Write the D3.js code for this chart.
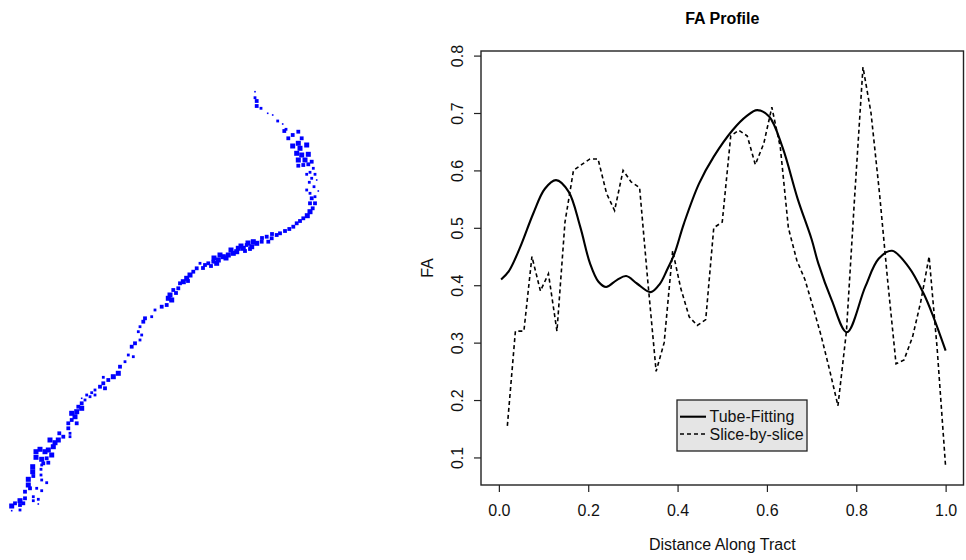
<!DOCTYPE html>
<html>
<head>
<meta charset="utf-8">
<script src="https://cdn.jsdelivr.net/npm/d3@7"></script>
<style>
  body { margin: 0; background: #fff; }
  svg { display: block; font-family: "Liberation Sans", Arial, Helvetica, sans-serif; }
</style>
</head>
<body>
<div id="chart"></div>
<script>
// Slice-by-slice FA samples (54 slices along the tract)
const sliceDistance = [0.019, 0.037, 0.056, 0.074, 0.093, 0.111, 0.130, 0.148, 0.167, 0.185,
  0.204, 0.222, 0.241, 0.259, 0.278, 0.296, 0.315, 0.333, 0.352, 0.370,
  0.389, 0.407, 0.426, 0.444, 0.463, 0.481, 0.500, 0.519, 0.537, 0.556,
  0.574, 0.593, 0.611, 0.630, 0.648, 0.667, 0.685, 0.704, 0.722, 0.741,
  0.759, 0.778, 0.796, 0.815, 0.833, 0.852, 0.870, 0.889, 0.907, 0.926,
  0.944, 0.963, 0.981, 1.000];
const sliceFA = [0.155, 0.32, 0.32, 0.45, 0.39, 0.42, 0.32, 0.51, 0.60, 0.61,
  0.62, 0.62, 0.56, 0.53, 0.60, 0.58, 0.57, 0.41, 0.25, 0.30,
  0.46, 0.395, 0.345, 0.33, 0.34, 0.50, 0.51, 0.66, 0.67, 0.66,
  0.61, 0.647, 0.71, 0.64, 0.50, 0.443, 0.41, 0.36, 0.31, 0.25,
  0.19, 0.32, 0.55, 0.78, 0.70, 0.56, 0.41, 0.263, 0.27, 0.31,
  0.37, 0.45, 0.29, 0.083];

// Tube-fitting FA profile (smooth curve, read at its turning points)
const tubeDistance = [0.005, 0.022, 0.047, 0.077, 0.103, 0.128, 0.156, 0.182, 0.204, 0.223,
  0.240, 0.264, 0.285, 0.309, 0.340, 0.360, 0.376, 0.393, 0.414, 0.448,
  0.481, 0.523, 0.555, 0.578, 0.605, 0.635, 0.669, 0.700, 0.715, 0.745,
  0.779, 0.820, 0.850, 0.880, 0.917, 0.951, 0.973, 1.000];
const tubeFA = [0.410, 0.424, 0.465, 0.525, 0.568, 0.583, 0.563, 0.502, 0.438, 0.406,
  0.397, 0.409, 0.416, 0.403, 0.388, 0.402, 0.426, 0.455, 0.507, 0.577,
  0.624, 0.670, 0.695, 0.705, 0.694, 0.640, 0.550, 0.480, 0.438, 0.374,
  0.318, 0.397, 0.446, 0.460, 0.432, 0.385, 0.344, 0.286];

const faTicks = [0.1, 0.2, 0.3, 0.4, 0.5, 0.6, 0.7, 0.8];
const distanceTicks = [0.0, 0.2, 0.4, 0.6, 0.8, 1.0];
const legendLabels = ["Tube-Fitting", "Slice-by-slice"];

// Tract points: [x, y, weight class 1..4] in view coordinates
const tractPoints = [
  [255,91.7,1],[255,97.7,2],[256.7,101,3],[256.7,106,3],[261,108.3,2],[267.7,113.3,1],[272.7,115,1],
  [277.7,121,2],[282.7,124,1],[284.3,131,3],[286,129.3,2],[292.7,135,3],[298.3,131.7,3],[288.3,138.3,3],
  [301.7,138.3,3],[292.7,146,4],[298.3,143.3,4],[300,148.3,4],[306.7,145,4],[296.7,153.3,4],[301.7,155,4],
  [308.3,154.3,4],[298.3,160,4],[305,160,4],[308.3,164.3,3],[311.7,161.7,3],[303.3,165,3],[298.3,165.7,3],
  [313.3,168.3,2],[310,172.3,2],[315,174.3,2],[306.7,174.3,2],[311.7,178.3,2],[309.3,182.3,2],[316.7,180,1],
  [314,186.7,2],[306.7,190,2],[310,193.3,2],[318.3,191,1],[315,196.7,2],[311.7,198.3,3],[315,203.3,3],
  [310,203.3,3],[312.7,208.3,3],[310,211.7,4],[307.3,215.7,4],[303.3,218.3,3],[300,221,3],[296.7,223.3,3],
  [293.3,226.7,3],[289.3,229,3],[285,231,3],[280,233.3,3],[276.7,235,3],[271.7,238.3,3],[268.3,241.7,3],
  [266.7,236.7,3],[261.7,241.7,3],[256.7,243.3,4],[253.3,241.7,4],[251.7,246.7,4],[246.7,245,3],
  [243.3,248.3,4],[238.3,248.3,4],[236.7,251.7,4],[233.3,253.3,4],[228.3,255,4],[223.3,256.7,4],
  [220,255,4],[218.3,260,4],[216.7,263.3,4],[213.3,261.7,3],[208.3,263.3,3],[205,265,3],[200,263.3,2],
  [196.7,268.3,3],[193.3,271.7,3],[190,275,4],[186.7,278.3,4],[183.3,281.7,4],[180,283.3,3],
  [178.3,288.3,3],[173.3,290,3],[170,295,4],[168.3,298.3,4],[171.7,300,4],[166.7,305,3],[161.7,306.7,3],
  [231,250,4],[226,258,4],[248,243,4],[241,246,4],[214,258,4],[211,266,3],[262,238,3],[272,234,3],
  [245,251,3],[203,268,3],[188,281,3],[176,293,3],[250,249,3],
  [155,310,2],[151.7,316.7,2],[145,318.3,3],[143.3,321.7,3],[140,326.7,2],[138.3,331.7,2],[141.7,335,2],
  [140,340,2],[135,343.3,3],[131.7,346.7,3],[133.3,356.7,2],[128.3,355,2],[125,361.7,2],[120,366.7,3],
  [118.3,373.3,4],[113.3,376.7,4],[108.3,380,3],[103.3,383.3,3],[100,386.7,3],[105,388.3,3],[103.3,377.3,2],
  [95,390,2],[91.7,392.7,2],[95,395,2],[90,396.7,2],[86.7,395,2],[85,400,2],[81.7,398.3,1],[81.7,403.3,3],
  [78.3,406.7,3],[81.7,408.3,4],[76.7,411.7,4],[71.7,413.3,4],[75,416.7,4],[71.7,420,3],[76.7,423.3,3],
  [68.3,423.3,3],[68.3,428.3,3],[70,433.3,2],[70,436.7,2],[63.3,436.7,3],[59.3,433.3,3],[58.3,440,4],
  [55,442.7,4],[50,440,4],[53.3,446.7,4],[48.3,450,4],[51.7,455,4],[45,451.7,4],[40,449.3,4],[36,451.7,4],
  [36,457.3,4],[41.7,459.3,4],[46.7,458.3,3],[48.3,462.7,3],[43.3,463.3,3],[41.7,465,2],[41,469.3,2],
  [41,475,2],[41.7,480,2],[46.7,482.7,2],[32.7,466.7,4],[32.7,471.7,4],[33.3,476,3],[28.3,479.3,4],
  [28.3,485,4],[30,488.3,3],[25,491.7,3],[36.7,488.3,2],[41.7,490.7,2],[33.3,496.7,2],[33.3,500.7,2],
  [38.3,499.3,2],[38.3,504,1],[25,498.3,3],[20,500.7,4],[23.3,503.3,3],[15,503.3,3],[11.7,506,4],
  [20,505,3],[20,510,2],[11.7,510.7,1]
];

class TractView {
  constructor(_svg) {
    this.config = { left: 0, top: 0, width: 340, height: 560 };
    this.svg = _svg;
    this.initVis();
  }

  initVis() {
    let vis = this;
    // view coordinates map straight onto the left panel
    vis.x = d3.scaleLinear().domain([0, 340]).range([0, vis.config.width]);
    vis.y = d3.scaleLinear().domain([0, 560]).range([0, vis.config.height]);
    vis.size = d3.scaleOrdinal().domain([1, 2, 3, 4]).range([1.6, 2.8, 3.8, 5]);
    vis.chart = vis.svg.append("g")
      .attr("transform", `translate(${vis.config.left},${vis.config.top})`);
    vis.renderVis();
  }

  renderVis() {
    let vis = this;
    vis.chart.selectAll("rect")
      .data(tractPoints)
      .join("rect")
      .attr("x", (d) => vis.x(d[0]) - vis.size(d[2]) / 2)
      .attr("y", (d) => vis.y(d[1]) - vis.size(d[2]) / 2)
      .attr("width", (d) => vis.size(d[2]))
      .attr("height", (d) => vis.size(d[2]))
      .attr("fill", "#0000ff");
  }
}

class FAProfile {
  constructor(_svg) {
    this.config = { left: 481, top: 51, width: 482.5, height: 434, fontSize: 16, ink: "#222" };
    this.svg = _svg;
    this.initVis();
  }

  initVis() {
    let vis = this;
    const c = vis.config;
    vis.x = d3.scaleLinear().domain([-0.04, 1.04]).range([0, c.width]);
    vis.y = d3.scaleLinear().domain([0.052, 0.808]).range([c.height, 0]);
    vis.chart = vis.svg.append("g").attr("transform", `translate(${c.left},${c.top})`);

    // axes
    vis.xAxisG = vis.chart.append("g").attr("transform", `translate(0,${c.height})`)
      .call(d3.axisBottom(vis.x).tickValues(distanceTicks).tickFormat(d3.format(".1f"))
        .tickSize(7).tickPadding(13).tickSizeOuter(0));
    vis.yAxisG = vis.chart.append("g")
      .call(d3.axisLeft(vis.y).tickValues(faTicks).tickFormat(d3.format(".1f"))
        .tickSize(7).tickSizeOuter(0));
    [vis.xAxisG, vis.yAxisG].forEach((g) => {
      g.attr("font-size", c.fontSize).attr("font-family", null);
      g.select(".domain").remove();
      g.selectAll(".tick line").attr("stroke", c.ink).attr("stroke-width", 1.2);
      g.selectAll(".tick text").attr("fill", "#111");
    });
    vis.yAxisG.selectAll(".tick text")
      .attr("transform", "rotate(-90)")
      .attr("x", 0).attr("y", -18.5).attr("dy", 0)
      .attr("text-anchor", "middle");

    // frame
    vis.chart.append("rect")
      .attr("width", c.width).attr("height", c.height)
      .attr("fill", "none").attr("stroke", c.ink).attr("stroke-width", 1.4);

    // titles
    vis.svg.append("text")
      .attr("x", c.left + vis.x(0.5)).attr("y", 24)
      .attr("text-anchor", "middle").attr("font-size", c.fontSize).attr("font-weight", "bold")
      .text("FA Profile");
    vis.svg.append("text")
      .attr("x", c.left + vis.x(0.5)).attr("y", 550)
      .attr("text-anchor", "middle").attr("font-size", c.fontSize).attr("fill", "#111")
      .text("Distance Along Tract");
    vis.svg.append("text")
      .attr("transform", `translate(433,${c.top + c.height / 2}) rotate(-90)`)
      .attr("text-anchor", "middle").attr("font-size", c.fontSize).attr("fill", "#111")
      .text("FA");

    vis.renderVis();
  }

  renderVis() {
    let vis = this;
    const smooth = d3.line()
      .x((d) => vis.x(d[0])).y((d) => vis.y(d[1]))
      .curve(d3.curveCatmullRom.alpha(0.5));
    const straight = d3.line().x((d) => vis.x(d[0])).y((d) => vis.y(d[1]));

    vis.chart.append("path")
      .datum(d3.zip(tubeDistance, tubeFA))
      .attr("d", smooth)
      .attr("fill", "none").attr("stroke", "#000").attr("stroke-width", 2.1);
    vis.chart.append("path")
      .datum(d3.zip(sliceDistance, sliceFA))
      .attr("d", straight)
      .attr("fill", "none").attr("stroke", "#000").attr("stroke-width", 1.6)
      .attr("stroke-dasharray", "4,3");

    // legend
    const lg = vis.svg.append("g").attr("transform", "translate(677,400)");
    lg.append("rect").attr("width", 130).attr("height", 51)
      .attr("fill", "#e5e5e5").attr("stroke", vis.config.ink).attr("stroke-width", 1.3);
    const item = lg.selectAll("g.item").data(legendLabels).join("g")
      .attr("class", "item")
      .attr("transform", (d, i) => `translate(0,${16.7 + i * 17.3})`);
    item.append("line").attr("x1", 3).attr("x2", 29)
      .attr("stroke", "#000")
      .attr("stroke-width", (d, i) => (i === 0 ? 2.1 : 1.6))
      .attr("stroke-dasharray", (d, i) => (i === 0 ? null : "4,3"));
    item.append("text").attr("x", 32.5).attr("dy", "0.35em")
      .attr("font-size", vis.config.fontSize).attr("fill", "#111")
      .text((d) => d);
  }
}

const svg = d3.select("#chart").append("svg").attr("width", 966).attr("height", 560);
svg.append("rect").attr("width", 966).attr("height", 560).attr("fill", "#fff");
new TractView(svg);
new FAProfile(svg);
</script>
</body>
</html>
